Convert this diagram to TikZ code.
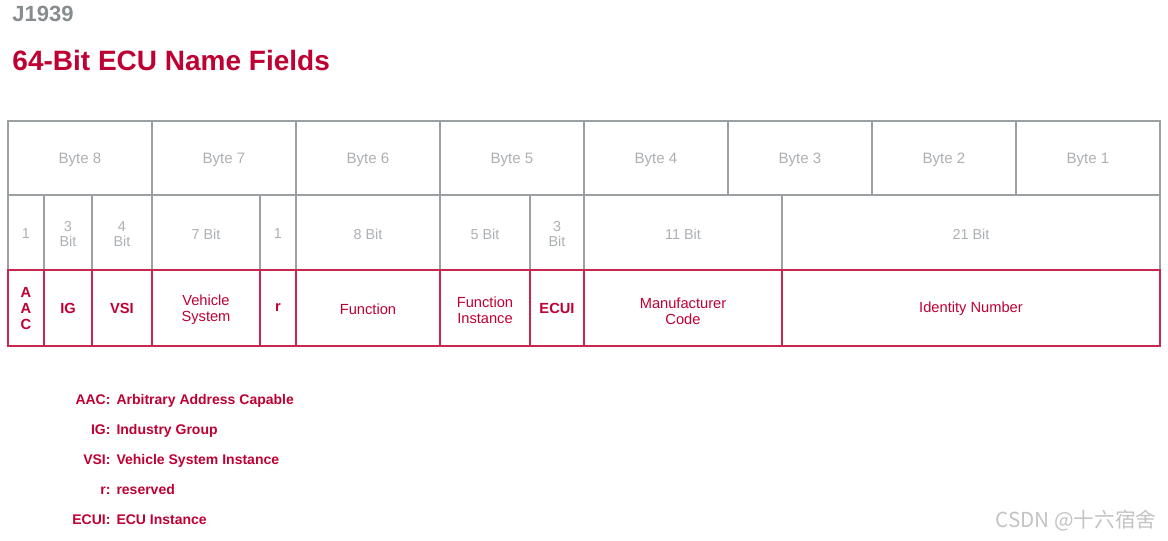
\documentclass[tikz,border=0pt]{standalone}
\usepackage{fontspec}
\setmainfont{Liberation Sans}
\newfontfamily\cjkfont{Noto Sans CJK SC}

\definecolor{namered}{RGB}{190,0,50}
\definecolor{cellred}{RGB}{200,40,80}
\definecolor{gridgray}{RGB}{155,160,163}
\definecolor{lblgray}{RGB}{172,176,179}
\definecolor{headgray}{RGB}{135,140,143}
\definecolor{markgray}{RGB}{195,195,195}

\tikzset{every picture/.style={line width=0.75pt}}
\tikzset{
  gridline/.style={draw=gridgray,line width=1.5pt},
  fieldline/.style={draw=cellred,line width=1.5pt},
  bytelbl/.style={text=lblgray,font=\fontsize{11.3}{13}\selectfont,inner sep=0pt},
  bitlbl/.style={text=lblgray,font=\fontsize{10.8}{11.8}\selectfont,align=center,inner sep=0pt},
  fieldlbl/.style={text=namered,font=\fontsize{11}{12}\selectfont,align=center,inner sep=0pt},
  fieldbold/.style={fieldlbl,font=\fontsize{11}{12}\selectfont\bfseries},
  keylbl/.style={text=namered,font=\fontsize{10.5}{12}\selectfont\bfseries,inner sep=0pt},
}

\begin{document}
\begin{tikzpicture}[x=0.75pt,y=0.75pt,yscale=-1,xscale=1]
\useasboundingbox (0,0) rectangle (1168,541);

% Text Node
\draw (12,22) node [anchor=base west,inner sep=0pt,text=headgray,font=\fontsize{16.5}{18}\selectfont\bfseries] (std) {J1939};
% Text Node
\draw (12,71) node [anchor=base west,inner sep=0pt,text=namered,font=\fontsize{21}{24}\selectfont\bfseries] (title) {64-Bit ECU Name Fields};

%Shape: Byte row
\draw [gridline] (8,121) rectangle (1160,270);
\draw [gridline] (8,195) -- (1160,195);
\draw [gridline] (152,121) -- (152,195) (296,121) -- (296,195) (440,121) -- (440,195) (584,121) -- (584,195) (728,121) -- (728,195) (872,121) -- (872,195) (1016,121) -- (1016,195);
%Shape: Bit row
\draw [gridline] (44,195) -- (44,270) (92,195) -- (92,270) (152,195) -- (152,270) (260,195) -- (260,270) (296,195) -- (296,270) (440,195) -- (440,270) (530,195) -- (530,270) (584,195) -- (584,270) (782,195) -- (782,270);
%Shape: Field row
\draw [fieldline] (8,270) rectangle (1160,346);
\draw [fieldline] (44,270) -- (44,346) (92,270) -- (92,346) (152,270) -- (152,346) (260,270) -- (260,346) (296,270) -- (296,346) (440,270) -- (440,346) (530,270) -- (530,346) (584,270) -- (584,346) (782,270) -- (782,346);

% Text Node
\draw (80,160) node [bytelbl] (byte8) {Byte 8};
% Text Node
\draw (224,160) node [bytelbl] (byte7) {Byte 7};
% Text Node
\draw (368,160) node [bytelbl] (byte6) {Byte 6};
% Text Node
\draw (512,160) node [bytelbl] (byte5) {Byte 5};
% Text Node
\draw (656,160) node [bytelbl] (byte4) {Byte 4};
% Text Node
\draw (800,160) node [bytelbl] (byte3) {Byte 3};
% Text Node
\draw (944,160) node [bytelbl] (byte2) {Byte 2};
% Text Node
\draw (1088,160) node [bytelbl] (byte1) {Byte 1};

% Text Node
\draw (26,234) node [bitlbl] (bitaac) {1};
% Text Node
\draw (68,234) node [bitlbl] (bitig) {3\\Bit};
% Text Node
\draw (122,234) node [bitlbl] (bitvsi) {4\\Bit};
% Text Node
\draw (206,234) node [bitlbl] (bitvs) {7 Bit};
% Text Node
\draw (278,234) node [bitlbl] (bitr) {1};
% Text Node
\draw (368,234) node [bitlbl] (bitfn) {8 Bit};
% Text Node
\draw (485,234) node [bitlbl] (bitfi) {5 Bit};
% Text Node
\draw (557,234) node [bitlbl] (bitecui) {3\\Bit};
% Text Node
\draw (683,234) node [bitlbl] (bitmc) {11 Bit};
% Text Node
\draw (971,234) node [bitlbl] (bitid) {21 Bit};

% Text Node
\draw (26,309) node [fieldbold] (aac) {A\\A\\C};
% Text Node
\draw (68,308) node [fieldbold] (ig) {IG};
% Text Node
\draw (122,308) node [fieldbold] (vsi) {VSI};
% Text Node
\draw (206,310) node [fieldlbl] (vs) {Vehicle\\System};
% Text Node
\draw (278,308) node [fieldbold] (r) {r};
% Text Node
\draw (368,309) node [fieldlbl] (fn) {Function};
% Text Node
\draw (485,310) node [fieldlbl] (fi) {Function\\Instance};
% Text Node
\draw (557,308) node [fieldbold] (ecui) {ECUI};
% Text Node
\draw (683,311) node [fieldlbl] (mc) {Manufacturer\\Code};
% Text Node
\draw (971,309) node [fieldlbl] (id) {Identity Number};

% Text Node
\draw (111,405) node [keylbl,anchor=base east] (kaac) {AAC:};
\draw (116,405) node [keylbl,anchor=base west] (daac) {Arbitrary Address Capable};
% Text Node
\draw (111,435) node [keylbl,anchor=base east] (kig) {IG:};
\draw (116,435) node [keylbl,anchor=base west] (dig) {Industry Group};
% Text Node
\draw (111,465) node [keylbl,anchor=base east] (kvsi) {VSI:};
\draw (116,465) node [keylbl,anchor=base west] (dvsi) {Vehicle System Instance};
% Text Node
\draw (111,495) node [keylbl,anchor=base east] (kr) {r:};
\draw (116,495) node [keylbl,anchor=base west] (dr) {reserved};
% Text Node
\draw (111,525) node [keylbl,anchor=base east] (kecui) {ECUI:};
\draw (116,525) node [keylbl,anchor=base west] (decui) {ECU Instance};

% Text Node
\draw (1076,521) node [text=markgray,font=\cjkfont\fontsize{15.5}{17}\selectfont,inner sep=0pt] (mark) {CSDN @十六宿舍};

\end{tikzpicture}
\end{document}
